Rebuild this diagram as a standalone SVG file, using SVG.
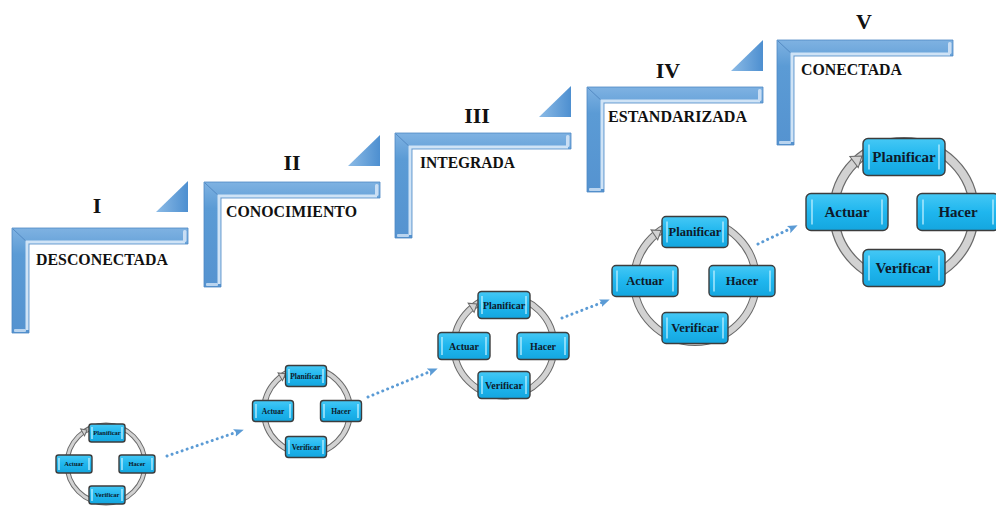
<svg xmlns="http://www.w3.org/2000/svg" width="996" height="512" viewBox="0 0 996 512">
<style>
.num{font-family:"Liberation Serif","Times New Roman",serif;font-weight:bold;font-size:22px;fill:#111;text-anchor:middle}
.lab{font-family:"Liberation Serif","Times New Roman",serif;font-weight:bold;font-size:16px;fill:#111}
.bx{fill:url(#boxGrad);stroke:#3c3c3c;stroke-width:1.4}
.hl{stroke:#bff0ff;stroke-width:1.3;fill:none}
.bt{font-family:"Liberation Serif","Times New Roman",serif;font-weight:bold;fill:#0f1a2a;text-anchor:middle}
.ro{fill:none;stroke:#6a6a6a}
.ri{fill:none;stroke:#d2d2d2}
.ah{fill:#d2d2d2;stroke:#6a6a6a;stroke-width:1}
.dot{fill:none;stroke:#5b9bd5;stroke-width:3;stroke-linecap:round;stroke-dasharray:0.1 5.2;marker-end:url(#blueArrow)}
.tri{fill:url(#triGrad)}
</style>
<defs>
<linearGradient id="boxGrad" x1="0" y1="0" x2="0" y2="1">
<stop offset="0" stop-color="#45c8f5"/>
<stop offset="0.5" stop-color="#1fb6ee"/>
<stop offset="1" stop-color="#14a6df"/>
</linearGradient>
<linearGradient id="triGrad" x1="0" y1="0" x2="1" y2="0">
<stop offset="0" stop-color="#8cbbe6"/>
<stop offset="1" stop-color="#4d8fd0"/>
</linearGradient>
<linearGradient id="hGrad" x1="0" y1="0" x2="0" y2="1">
<stop offset="0" stop-color="#7fb2e2"/>
<stop offset="0.25" stop-color="#5b9bd5"/>
<stop offset="1" stop-color="#5593d0"/>
</linearGradient>
<marker id="blueArrow" viewBox="0 0 10 10" refX="6" refY="5" markerWidth="10" markerHeight="10" markerUnits="userSpaceOnUse" orient="auto">
<path d="M0,1 L10,5 L0,9 L2,5 Z" fill="#5b9bd5"/>
</marker>
<g id="stair">
<path d="M0,0 H176 V16 H17 V105 H0 Z" fill="url(#hGrad)" stroke="#4f89c4" stroke-width="0.8"/>
<line x1="1" y1="1" x2="17" y2="16" stroke="#4a82bd" stroke-width="0.8"/>
<polyline points="173,14 15,14 15,102" fill="none" stroke="#cfe3f6" stroke-width="3"/>
<rect x="171" y="2" width="3.5" height="12" rx="1.5" fill="#c9def4"/>
<rect x="2" y="101" width="12" height="3" rx="1" fill="#b9d4ef"/>
</g>
</defs>
<rect width="996" height="512" fill="#ffffff"/>

<g id="stage-I">
<use href="#stair" x="12" y="228"/>
<polygon class="tri" points="156,212 188,212 188,181"/>
<text class="num" x="97" y="213">I</text>
<text class="lab" x="36" y="265" textLength="132" lengthAdjust="spacingAndGlyphs">DESCONECTADA</text>
</g>
<g id="stage-II">
<use href="#stair" x="204" y="182"/>
<polygon class="tri" points="348,166 380,166 380,135"/>
<text class="num" x="292" y="170">II</text>
<text class="lab" x="226" y="217" textLength="131" lengthAdjust="spacingAndGlyphs">CONOCIMIENTO</text>
</g>
<g id="stage-III">
<use href="#stair" x="395" y="133"/>
<polygon class="tri" points="539,117 571,117 571,86"/>
<text class="num" x="477" y="123">III</text>
<text class="lab" x="420" y="168" textLength="95" lengthAdjust="spacingAndGlyphs">INTEGRADA</text>
</g>
<g id="stage-IV">
<use href="#stair" x="587" y="87"/>
<polygon class="tri" points="731,71 763,71 763,40"/>
<text class="num" x="668" y="78">IV</text>
<text class="lab" x="608" y="122" textLength="139" lengthAdjust="spacingAndGlyphs">ESTANDARIZADA</text>
</g>
<g id="stage-V">
<use href="#stair" x="777" y="40"/>
<text class="num" x="864" y="29">V</text>
<text class="lab" x="801" y="75" textLength="101" lengthAdjust="spacingAndGlyphs">CONECTADA</text>
</g>

<g id="connectors">
<line class="dot" x1="167" y1="456" x2="240" y2="431"/>
<line class="dot" x1="368" y1="397" x2="434" y2="370"/>
<line class="dot" x1="562" y1="318" x2="606" y2="301"/>
<line class="dot" x1="758" y1="244" x2="794" y2="227"/>
</g>

<g id="cycle-1">
<circle class="ro" cx="106" cy="464" r="39" stroke-width="5"/>
<circle class="ri" cx="106" cy="464" r="39" stroke-width="3"/>
<polygon class="ah" transform="translate(87,430) rotate(-29)" points="0,0 -5,-4 -5,4"/>
<g id="c1-planificar"><rect class="bx" x="89" y="424" width="36" height="18" rx="2.5"/><line class="hl" x1="92" y1="427" x2="92" y2="439"/><line class="hl" x1="122" y1="427" x2="122" y2="439"/><text class="bt" x="107" y="435.3" font-size="6.5">Planificar</text></g>
<g id="c1-actuar"><rect class="bx" x="56" y="455" width="36" height="18" rx="2.5"/><line class="hl" x1="59" y1="458" x2="59" y2="470"/><line class="hl" x1="89" y1="458" x2="89" y2="470"/><text class="bt" x="74" y="466.3" font-size="6.5">Actuar</text></g>
<g id="c1-hacer"><rect class="bx" x="119" y="455" width="36" height="18" rx="2.5"/><line class="hl" x1="122" y1="458" x2="122" y2="470"/><line class="hl" x1="152" y1="458" x2="152" y2="470"/><text class="bt" x="137" y="466.3" font-size="6.5">Hacer</text></g>
<g id="c1-verificar"><rect class="bx" x="89" y="486" width="36" height="18" rx="2.5"/><line class="hl" x1="92" y1="489" x2="92" y2="501"/><line class="hl" x1="122" y1="489" x2="122" y2="501"/><text class="bt" x="107" y="497.3" font-size="6.5">Verificar</text></g>
</g>

<g id="cycle-2">
<circle class="ro" cx="307" cy="411" r="43" stroke-width="6"/>
<circle class="ri" cx="307" cy="411" r="43" stroke-width="4"/>
<polygon class="ah" transform="translate(285.5,373.8) rotate(-30)" points="0,0 -6,-4.5 -6,4.5"/>
<g id="c2-planificar"><rect class="bx" x="285.5" y="365.5" width="41" height="21" rx="3"/><line class="hl" x1="289" y1="369" x2="289" y2="383"/><line class="hl" x1="323" y1="369" x2="323" y2="383"/><text class="bt" x="306" y="378.6" font-size="7.5">Planificar</text></g>
<g id="c2-actuar"><rect class="bx" x="252.5" y="400.5" width="41" height="21" rx="3"/><line class="hl" x1="256" y1="404" x2="256" y2="418"/><line class="hl" x1="290" y1="404" x2="290" y2="418"/><text class="bt" x="273" y="413.6" font-size="7.5">Actuar</text></g>
<g id="c2-hacer"><rect class="bx" x="320.5" y="400.5" width="41" height="21" rx="3"/><line class="hl" x1="324" y1="404" x2="324" y2="418"/><line class="hl" x1="358" y1="404" x2="358" y2="418"/><text class="bt" x="341" y="413.6" font-size="7.5">Hacer</text></g>
<g id="c2-verificar"><rect class="bx" x="285.5" y="436.5" width="41" height="21" rx="3"/><line class="hl" x1="289" y1="440" x2="289" y2="454"/><line class="hl" x1="323" y1="440" x2="323" y2="454"/><text class="bt" x="306" y="449.6" font-size="7.5">Verificar</text></g>
</g>

<g id="cycle-3">
<circle class="ro" cx="504" cy="346" r="50" stroke-width="7"/>
<circle class="ri" cx="504" cy="346" r="50" stroke-width="5"/>
<polygon class="ah" transform="translate(477,304) rotate(-33)" points="0,0 -7,-5.5 -7,5.5"/>
<g id="c3-planificar"><rect class="bx" x="478" y="291.5" width="52" height="27" rx="3.5"/><line class="hl" x1="482" y1="296" x2="482" y2="314"/><line class="hl" x1="526" y1="296" x2="526" y2="314"/><text class="bt" x="504" y="308.5" font-size="10">Planificar</text></g>
<g id="c3-actuar"><rect class="bx" x="438" y="332.5" width="52" height="27" rx="3.5"/><line class="hl" x1="442" y1="337" x2="442" y2="355"/><line class="hl" x1="486" y1="337" x2="486" y2="355"/><text class="bt" x="464" y="349.5" font-size="10">Actuar</text></g>
<g id="c3-hacer"><rect class="bx" x="517" y="332.5" width="52" height="27" rx="3.5"/><line class="hl" x1="521" y1="337" x2="521" y2="355"/><line class="hl" x1="565" y1="337" x2="565" y2="355"/><text class="bt" x="543" y="349.5" font-size="10">Hacer</text></g>
<g id="c3-verificar"><rect class="bx" x="478" y="371.5" width="52" height="27" rx="3.5"/><line class="hl" x1="482" y1="376" x2="482" y2="394"/><line class="hl" x1="526" y1="376" x2="526" y2="394"/><text class="bt" x="504" y="388.5" font-size="10">Verificar</text></g>
</g>

<g id="cycle-4">
<circle class="ro" cx="695" cy="281" r="61" stroke-width="8"/>
<circle class="ri" cx="695" cy="281" r="61" stroke-width="6"/>
<polygon class="ah" transform="translate(661,230.4) rotate(-34)" points="0,0 -8,-6 -8,6"/>
<g id="c4-planificar"><rect class="bx" x="662" y="216.5" width="66" height="31" rx="4"/><line class="hl" x1="667" y1="221.5" x2="667" y2="242.5"/><line class="hl" x1="723" y1="221.5" x2="723" y2="242.5"/><text class="bt" x="695" y="236.4" font-size="12.5">Planificar</text></g>
<g id="c4-actuar"><rect class="bx" x="612" y="265.5" width="66" height="31" rx="4"/><line class="hl" x1="617" y1="270.5" x2="617" y2="291.5"/><line class="hl" x1="673" y1="270.5" x2="673" y2="291.5"/><text class="bt" x="645" y="285.4" font-size="12.5">Actuar</text></g>
<g id="c4-hacer"><rect class="bx" x="709" y="265.5" width="66" height="31" rx="4"/><line class="hl" x1="714" y1="270.5" x2="714" y2="291.5"/><line class="hl" x1="770" y1="270.5" x2="770" y2="291.5"/><text class="bt" x="742" y="285.4" font-size="12.5">Hacer</text></g>
<g id="c4-verificar"><rect class="bx" x="662" y="312.5" width="66" height="31" rx="4"/><line class="hl" x1="667" y1="317.5" x2="667" y2="338.5"/><line class="hl" x1="723" y1="317.5" x2="723" y2="338.5"/><text class="bt" x="695" y="332.4" font-size="12.5">Verificar</text></g>
</g>

<g id="cycle-5">
<circle class="ro" cx="904" cy="212" r="70" stroke-width="10"/>
<circle class="ri" cx="904" cy="212" r="70" stroke-width="7.5"/>
<polygon class="ah" transform="translate(862,156) rotate(-37)" points="0,0 -10,-7 -10,7"/>
<g id="c5-planificar"><rect class="bx" x="863" y="138.5" width="82" height="37" rx="5"/><line class="hl" x1="869" y1="144.5" x2="869" y2="169.5"/><line class="hl" x1="939" y1="144.5" x2="939" y2="169.5"/><text class="bt" x="904" y="162.2" font-size="15">Planificar</text></g>
<g id="c5-actuar"><rect class="bx" x="806" y="193.5" width="82" height="37" rx="5"/><line class="hl" x1="812" y1="199.5" x2="812" y2="224.5"/><line class="hl" x1="882" y1="199.5" x2="882" y2="224.5"/><text class="bt" x="847" y="217.2" font-size="15">Actuar</text></g>
<g id="c5-hacer"><rect class="bx" x="917" y="193.5" width="82" height="37" rx="5"/><line class="hl" x1="923" y1="199.5" x2="923" y2="224.5"/><line class="hl" x1="993" y1="199.5" x2="993" y2="224.5"/><text class="bt" x="958" y="217.2" font-size="15">Hacer</text></g>
<g id="c5-verificar"><rect class="bx" x="863" y="249.5" width="82" height="37" rx="5"/><line class="hl" x1="869" y1="255.5" x2="869" y2="280.5"/><line class="hl" x1="939" y1="255.5" x2="939" y2="280.5"/><text class="bt" x="904" y="273.2" font-size="15">Verificar</text></g>
</g>
</svg>
